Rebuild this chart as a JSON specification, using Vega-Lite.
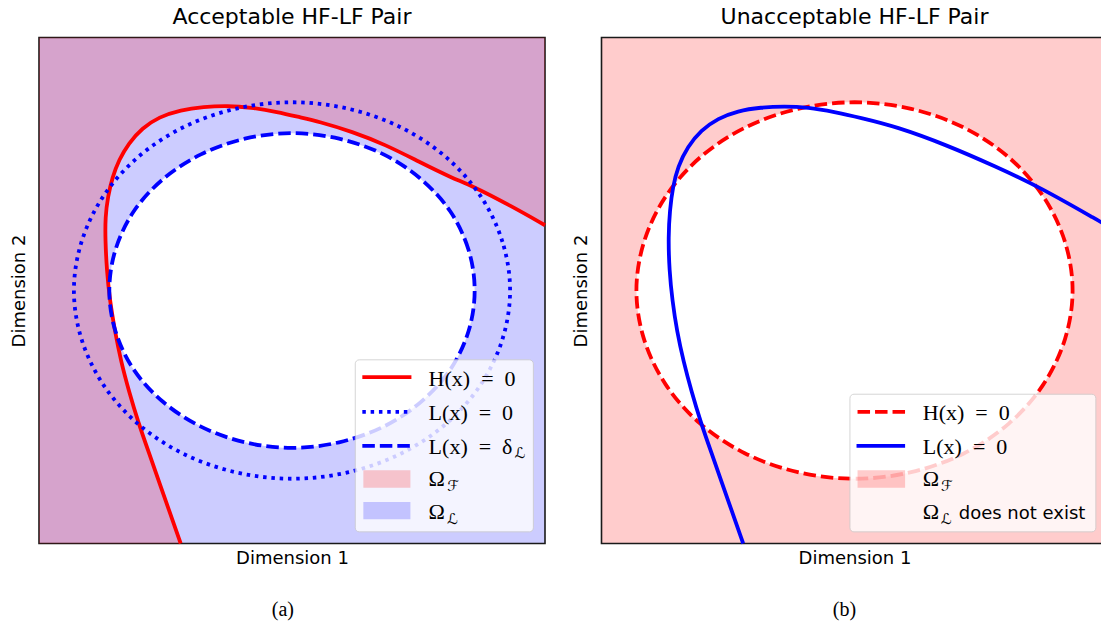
{
  "$schema": "https://vega.github.io/schema/vega-lite/v6.json",
  "padding": {"left": 9, "top": 4.5, "right": 0, "bottom": 0},
  "spacing": 17.5,
  "config": {
    "view": {"stroke": "#1a1a1a", "strokeWidth": 1.6},
    "axis": {"domain": false, "ticks": false, "labels": false, "grid": false, "titleFont": "DejaVu Sans", "titleFontSize": 18, "titleFontWeight": "normal", "titleColor": "black"},
    "axisX": {"titlePadding": 6},
    "axisY": {"titlePadding": 11},
    "title": {"font": "DejaVu Sans", "fontSize": 22, "fontWeight": "normal", "color": "black", "offset": 9, "frame": "group"}
  },
  "datasets": {
    "one": [{}],
    "hL": [
      {"i": 0, "x": 2.80, "y": 0.00, "part": "curve"},
      {"i": 1, "x": 2.59, "y": 0.60, "part": "curve"},
      {"i": 2, "x": 2.38, "y": 1.20, "part": "curve"},
      {"i": 3, "x": 2.17, "y": 1.80, "part": "curve"},
      {"i": 4, "x": 1.96, "y": 2.40, "part": "curve"},
      {"i": 5, "x": 1.78, "y": 3.00, "part": "curve"},
      {"i": 6, "x": 1.62, "y": 3.60, "part": "curve"},
      {"i": 7, "x": 1.50, "y": 4.20, "part": "curve"},
      {"i": 8, "x": 1.40, "y": 4.80, "part": "curve"},
      {"i": 9, "x": 1.34, "y": 5.40, "part": "curve"},
      {"i": 10, "x": 1.31, "y": 6.00, "part": "curve"},
      {"i": 11, "x": 1.31, "y": 6.45, "part": "curve"},
      {"i": 12, "x": 1.36, "y": 6.85, "part": "curve"},
      {"i": 13, "x": 1.45, "y": 7.24, "part": "curve"},
      {"i": 14, "x": 1.58, "y": 7.58, "part": "curve"},
      {"i": 15, "x": 1.77, "y": 7.91, "part": "curve"},
      {"i": 16, "x": 2.04, "y": 8.21, "part": "curve"},
      {"i": 17, "x": 2.37, "y": 8.43, "part": "curve"},
      {"i": 18, "x": 2.80, "y": 8.57, "part": "curve"},
      {"i": 19, "x": 3.25, "y": 8.63, "part": "curve"},
      {"i": 20, "x": 3.73, "y": 8.65, "part": "curve"},
      {"i": 21, "x": 4.18, "y": 8.62, "part": "curve"},
      {"i": 22, "x": 4.71, "y": 8.53, "part": "curve"},
      {"i": 23, "x": 5.17, "y": 8.42, "part": "curve"},
      {"i": 24, "x": 5.52, "y": 8.34, "part": "curve"},
      {"i": 25, "x": 6.19, "y": 8.14, "part": "curve"},
      {"i": 26, "x": 6.85, "y": 7.88, "part": "curve"},
      {"i": 27, "x": 7.50, "y": 7.55, "part": "curve"},
      {"i": 28, "x": 8.17, "y": 7.22, "part": "curve"},
      {"i": 29, "x": 8.56, "y": 7.07, "part": "curve"},
      {"i": 30, "x": 9.35, "y": 6.66, "part": "curve"},
      {"i": 31, "x": 10.0, "y": 6.29, "part": "curve"},
      {"i": 32, "x": 10.0, "y": 10.0, "part": "corner"},
      {"i": 33, "x": 0.0, "y": 10.0, "part": "corner"},
      {"i": 34, "x": 0.0, "y": 0.0, "part": "corner"}
    ],
    "lR": [
      {"i": 0, "x": 2.80, "y": 0.00},
      {"i": 1, "x": 2.59, "y": 0.60},
      {"i": 2, "x": 2.38, "y": 1.20},
      {"i": 3, "x": 2.17, "y": 1.80},
      {"i": 4, "x": 1.96, "y": 2.40},
      {"i": 5, "x": 1.78, "y": 3.00},
      {"i": 6, "x": 1.62, "y": 3.60},
      {"i": 7, "x": 1.49, "y": 4.20},
      {"i": 8, "x": 1.40, "y": 4.80},
      {"i": 9, "x": 1.34, "y": 5.40},
      {"i": 10, "x": 1.32, "y": 6.06},
      {"i": 11, "x": 1.35, "y": 6.59},
      {"i": 12, "x": 1.41, "y": 7.05},
      {"i": 13, "x": 1.51, "y": 7.45},
      {"i": 14, "x": 1.70, "y": 7.84},
      {"i": 15, "x": 1.97, "y": 8.17},
      {"i": 16, "x": 2.30, "y": 8.40},
      {"i": 17, "x": 2.69, "y": 8.55},
      {"i": 18, "x": 3.15, "y": 8.62},
      {"i": 19, "x": 3.61, "y": 8.64},
      {"i": 20, "x": 4.08, "y": 8.62},
      {"i": 21, "x": 4.60, "y": 8.53},
      {"i": 22, "x": 5.13, "y": 8.41},
      {"i": 23, "x": 5.82, "y": 8.24},
      {"i": 24, "x": 6.81, "y": 7.88},
      {"i": 25, "x": 7.79, "y": 7.45},
      {"i": 26, "x": 8.65, "y": 7.05},
      {"i": 27, "x": 9.89, "y": 6.34},
      {"i": 28, "x": 10.0, "y": 6.28}
    ],
    "ellipseInner": [
      {"i": 0, "x": 8.61, "y": 5.00},
      {"i": 1, "x": 8.49, "y": 5.80},
      {"i": 2, "x": 8.13, "y": 6.56},
      {"i": 3, "x": 7.55, "y": 7.20},
      {"i": 4, "x": 6.81, "y": 7.69},
      {"i": 5, "x": 5.93, "y": 8.00},
      {"i": 6, "x": 5.00, "y": 8.11},
      {"i": 7, "x": 4.07, "y": 8.00},
      {"i": 8, "x": 3.20, "y": 7.69},
      {"i": 9, "x": 2.45, "y": 7.20},
      {"i": 10, "x": 1.87, "y": 6.56},
      {"i": 11, "x": 1.51, "y": 5.80},
      {"i": 12, "x": 1.39, "y": 5.00},
      {"i": 13, "x": 1.51, "y": 4.20},
      {"i": 14, "x": 1.87, "y": 3.44},
      {"i": 15, "x": 2.45, "y": 2.80},
      {"i": 16, "x": 3.20, "y": 2.31},
      {"i": 17, "x": 4.07, "y": 2.00},
      {"i": 18, "x": 5.00, "y": 1.89},
      {"i": 19, "x": 5.93, "y": 2.00},
      {"i": 20, "x": 6.81, "y": 2.31},
      {"i": 21, "x": 7.55, "y": 2.80},
      {"i": 22, "x": 8.13, "y": 3.44},
      {"i": 23, "x": 8.49, "y": 4.20}
    ],
    "ellipseOuter": [
      {"i": 0, "x": 9.31, "y": 5.00},
      {"i": 1, "x": 9.16, "y": 5.96},
      {"i": 2, "x": 8.73, "y": 6.86},
      {"i": 3, "x": 8.05, "y": 7.63},
      {"i": 4, "x": 7.16, "y": 8.22},
      {"i": 5, "x": 6.12, "y": 8.59},
      {"i": 6, "x": 5.00, "y": 8.72},
      {"i": 7, "x": 3.88, "y": 8.59},
      {"i": 8, "x": 2.84, "y": 8.22},
      {"i": 9, "x": 1.95, "y": 7.63},
      {"i": 10, "x": 1.27, "y": 6.86},
      {"i": 11, "x": 0.84, "y": 5.96},
      {"i": 12, "x": 0.69, "y": 5.00},
      {"i": 13, "x": 0.84, "y": 4.04},
      {"i": 14, "x": 1.27, "y": 3.14},
      {"i": 15, "x": 1.95, "y": 2.37},
      {"i": 16, "x": 2.84, "y": 1.78},
      {"i": 17, "x": 3.88, "y": 1.41},
      {"i": 18, "x": 5.00, "y": 1.28},
      {"i": 19, "x": 6.12, "y": 1.41},
      {"i": 20, "x": 7.16, "y": 1.78},
      {"i": 21, "x": 8.05, "y": 2.37},
      {"i": 22, "x": 8.73, "y": 3.14},
      {"i": 23, "x": 9.16, "y": 4.04}
    ]
  },
  "hconcat": [
    {
      "width": 506,
      "height": 506,
      "title": "Acceptable HF-LF Pair",
      "view": {"fill": "#ccccff", "stroke": "#1a1a1a", "strokeWidth": 1.6},
      "layer": [
        {
          "data": {"name": "hL"},
          "mark": {"type": "line", "fill": "red", "fillOpacity": 0.2, "stroke": "transparent", "strokeWidth": 0, "interpolate": "linear"},
          "encoding": {
            "x": {"field": "x", "type": "quantitative", "scale": {"domain": [0, 10], "nice": false, "zero": false}, "axis": {"title": "Dimension 1"}},
            "y": {"field": "y", "type": "quantitative", "scale": {"domain": [0, 10], "nice": false, "zero": false}, "axis": {"title": "Dimension 2"}},
            "order": {"field": "i", "type": "quantitative"}
          }
        },
        {
          "data": {"name": "ellipseInner"},
          "mark": {"type": "line", "fill": "white", "stroke": "transparent", "strokeWidth": 0, "interpolate": "cardinal-closed"},
          "encoding": {
            "x": {"field": "x", "type": "quantitative"},
            "y": {"field": "y", "type": "quantitative"},
            "order": {"field": "i", "type": "quantitative"}
          }
        },
        {
          "data": {"name": "hL"},
          "transform": [{"filter": "datum.part == 'curve'"}],
          "mark": {"type": "line", "color": "red", "strokeWidth": 3.8, "interpolate": "basis"},
          "encoding": {
            "x": {"field": "x", "type": "quantitative"},
            "y": {"field": "y", "type": "quantitative"},
            "order": {"field": "i", "type": "quantitative"}
          }
        },
        {
          "data": {"name": "ellipseOuter"},
          "mark": {"type": "line", "color": "blue", "strokeWidth": 3.8, "strokeDash": [3.5, 4.8], "interpolate": "cardinal-closed"},
          "encoding": {
            "x": {"field": "x", "type": "quantitative"},
            "y": {"field": "y", "type": "quantitative"},
            "order": {"field": "i", "type": "quantitative"}
          }
        },
        {
          "data": {"name": "ellipseInner"},
          "mark": {"type": "line", "color": "blue", "strokeWidth": 3.8, "strokeDash": [12.5, 5], "interpolate": "cardinal-closed"},
          "encoding": {
            "x": {"field": "x", "type": "quantitative"},
            "y": {"field": "y", "type": "quantitative"},
            "order": {"field": "i", "type": "quantitative"}
          }
        },
        {
          "data": {"name": "one"},
          "mark": {"type": "rect", "fill": "white", "stroke": "#cccccc", "strokeWidth": 1, "opacity": 0.8, "cornerRadius": 4},
          "encoding": {"x": {"datum": 6.25}, "x2": {"datum": 9.77}, "y": {"datum": 3.63}, "y2": {"datum": 0.23}}
        },
        {
          "data": {"name": "one"},
          "mark": {"type": "rule", "color": "red", "strokeWidth": 3.8},
          "encoding": {"x": {"datum": 6.39}, "x2": {"datum": 7.36}, "y": {"datum": 3.29}}
        },
        {
          "data": {"name": "one"},
          "mark": {"type": "rule", "color": "blue", "strokeWidth": 3.8, "strokeDash": [3.5, 4.8]},
          "encoding": {"x": {"datum": 6.39}, "x2": {"datum": 7.36}, "y": {"datum": 2.60}}
        },
        {
          "data": {"name": "one"},
          "mark": {"type": "rule", "color": "blue", "strokeWidth": 3.8, "strokeDash": [12.5, 5]},
          "encoding": {"x": {"datum": 6.39}, "x2": {"datum": 7.36}, "y": {"datum": 1.93}}
        },
        {
          "data": {"name": "one"},
          "mark": {"type": "rect", "fill": "red", "opacity": 0.2},
          "encoding": {"x": {"datum": 6.41}, "x2": {"datum": 7.34}, "y": {"datum": 1.45}, "y2": {"datum": 1.10}}
        },
        {
          "data": {"name": "one"},
          "mark": {"type": "rect", "fill": "blue", "opacity": 0.2},
          "encoding": {"x": {"datum": 6.41}, "x2": {"datum": 7.34}, "y": {"datum": 0.82}, "y2": {"datum": 0.48}}
        },
        {
          "data": {"name": "one"},
          "mark": {"type": "text", "text": "H(x)\u00a0 =\u00a0 0", "font": "Liberation Serif", "fontSize": 22, "align": "left", "baseline": "alphabetic"},
          "encoding": {"x": {"datum": 7.70}, "y": {"datum": 3.11}}
        },
        {
          "data": {"name": "one"},
          "mark": {"type": "text", "text": "L(x)\u00a0 =\u00a0 0", "font": "Liberation Serif", "fontSize": 22, "align": "left", "baseline": "alphabetic"},
          "encoding": {"x": {"datum": 7.70}, "y": {"datum": 2.44}}
        },
        {
          "data": {"name": "one"},
          "mark": {"type": "text", "text": "L(x)\u00a0 =\u00a0 δ", "font": "Liberation Serif", "fontSize": 22, "align": "left", "baseline": "alphabetic"},
          "encoding": {"x": {"datum": 7.70}, "y": {"datum": 1.77}}
        },
        {
          "data": {"name": "one"},
          "mark": {"type": "text", "text": "ℒ", "font": "DejaVu Sans", "fontSize": 15, "align": "left", "baseline": "alphabetic"},
          "encoding": {"x": {"datum": 9.40}, "y": {"datum": 1.68}}
        },
        {
          "data": {"name": "one"},
          "mark": {"type": "text", "text": "Ω", "font": "Liberation Serif", "fontSize": 22, "align": "left", "baseline": "alphabetic"},
          "encoding": {"x": {"datum": 7.70}, "y": {"datum": 1.14}}
        },
        {
          "data": {"name": "one"},
          "mark": {"type": "text", "text": "ℱ", "font": "DejaVu Sans", "fontSize": 15, "align": "left", "baseline": "alphabetic"},
          "encoding": {"x": {"datum": 8.07}, "y": {"datum": 1.03}}
        },
        {
          "data": {"name": "one"},
          "mark": {"type": "text", "text": "Ω", "font": "Liberation Serif", "fontSize": 22, "align": "left", "baseline": "alphabetic"},
          "encoding": {"x": {"datum": 7.70}, "y": {"datum": 0.49}}
        },
        {
          "data": {"name": "one"},
          "mark": {"type": "text", "text": "ℒ", "font": "DejaVu Sans", "fontSize": 15, "align": "left", "baseline": "alphabetic"},
          "encoding": {"x": {"datum": 8.07}, "y": {"datum": 0.38}}
        },
        {
          "data": {"name": "one"},
          "mark": {"type": "text", "text": "(a)", "font": "Liberation Serif", "fontSize": 20, "align": "center", "baseline": "alphabetic"},
          "encoding": {"x": {"datum": 4.82}, "y": {"datum": -1.43}}
        }
      ]
    },
    {
      "width": 506,
      "height": 506,
      "title": "Unacceptable HF-LF Pair",
      "view": {"fill": "#ffcccc", "stroke": "#1a1a1a", "strokeWidth": 1.6},
      "layer": [
        {
          "data": {"name": "ellipseOuter"},
          "mark": {"type": "line", "fill": "white", "stroke": "transparent", "strokeWidth": 0, "interpolate": "cardinal-closed"},
          "encoding": {
            "x": {"field": "x", "type": "quantitative", "scale": {"domain": [0, 10], "nice": false, "zero": false}, "axis": {"title": "Dimension 1"}},
            "y": {"field": "y", "type": "quantitative", "scale": {"domain": [0, 10], "nice": false, "zero": false}, "axis": {"title": "Dimension 2"}},
            "order": {"field": "i", "type": "quantitative"}
          }
        },
        {
          "data": {"name": "ellipseOuter"},
          "mark": {"type": "line", "color": "red", "strokeWidth": 3.8, "strokeDash": [12.5, 5], "interpolate": "cardinal-closed"},
          "encoding": {
            "x": {"field": "x", "type": "quantitative"},
            "y": {"field": "y", "type": "quantitative"},
            "order": {"field": "i", "type": "quantitative"}
          }
        },
        {
          "data": {"name": "lR"},
          "mark": {"type": "line", "color": "blue", "strokeWidth": 3.8, "interpolate": "basis"},
          "encoding": {
            "x": {"field": "x", "type": "quantitative"},
            "y": {"field": "y", "type": "quantitative"},
            "order": {"field": "i", "type": "quantitative"}
          }
        },
        {
          "data": {"name": "one"},
          "mark": {"type": "rect", "fill": "white", "stroke": "#cccccc", "strokeWidth": 1, "opacity": 0.8, "cornerRadius": 4},
          "encoding": {"x": {"datum": 4.91}, "x2": {"datum": 9.77}, "y": {"datum": 2.95}, "y2": {"datum": 0.23}}
        },
        {
          "data": {"name": "one"},
          "mark": {"type": "rule", "color": "red", "strokeWidth": 3.8, "strokeDash": [12.5, 5]},
          "encoding": {"x": {"datum": 5.06}, "x2": {"datum": 6.0}, "y": {"datum": 2.60}}
        },
        {
          "data": {"name": "one"},
          "mark": {"type": "rule", "color": "blue", "strokeWidth": 3.8},
          "encoding": {"x": {"datum": 5.04}, "x2": {"datum": 6.0}, "y": {"datum": 1.93}}
        },
        {
          "data": {"name": "one"},
          "mark": {"type": "rect", "fill": "red", "opacity": 0.2},
          "encoding": {"x": {"datum": 5.06}, "x2": {"datum": 6.0}, "y": {"datum": 1.45}, "y2": {"datum": 1.10}}
        },
        {
          "data": {"name": "one"},
          "mark": {"type": "text", "text": "H(x)\u00a0 =\u00a0 0", "font": "Liberation Serif", "fontSize": 22, "align": "left", "baseline": "alphabetic"},
          "encoding": {"x": {"datum": 6.35}, "y": {"datum": 2.44}}
        },
        {
          "data": {"name": "one"},
          "mark": {"type": "text", "text": "L(x)\u00a0 =\u00a0 0", "font": "Liberation Serif", "fontSize": 22, "align": "left", "baseline": "alphabetic"},
          "encoding": {"x": {"datum": 6.35}, "y": {"datum": 1.77}}
        },
        {
          "data": {"name": "one"},
          "mark": {"type": "text", "text": "Ω", "font": "Liberation Serif", "fontSize": 22, "align": "left", "baseline": "alphabetic"},
          "encoding": {"x": {"datum": 6.35}, "y": {"datum": 1.14}}
        },
        {
          "data": {"name": "one"},
          "mark": {"type": "text", "text": "ℱ", "font": "DejaVu Sans", "fontSize": 15, "align": "left", "baseline": "alphabetic"},
          "encoding": {"x": {"datum": 6.71}, "y": {"datum": 1.03}}
        },
        {
          "data": {"name": "one"},
          "mark": {"type": "text", "text": "Ω", "font": "Liberation Serif", "fontSize": 22, "align": "left", "baseline": "alphabetic"},
          "encoding": {"x": {"datum": 6.35}, "y": {"datum": 0.49}}
        },
        {
          "data": {"name": "one"},
          "mark": {"type": "text", "text": "ℒ", "font": "DejaVu Sans", "fontSize": 15, "align": "left", "baseline": "alphabetic"},
          "encoding": {"x": {"datum": 6.71}, "y": {"datum": 0.38}}
        },
        {
          "data": {"name": "one"},
          "mark": {"type": "text", "text": "does not exist", "font": "DejaVu Sans", "fontSize": 18, "align": "left", "baseline": "alphabetic"},
          "encoding": {"x": {"datum": 7.06}, "y": {"datum": 0.49}}
        },
        {
          "data": {"name": "one"},
          "mark": {"type": "text", "text": "(b)", "font": "Liberation Serif", "fontSize": 20, "align": "center", "baseline": "alphabetic"},
          "encoding": {"x": {"datum": 4.8}, "y": {"datum": -1.43}}
        }
      ]
    }
  ]
}
